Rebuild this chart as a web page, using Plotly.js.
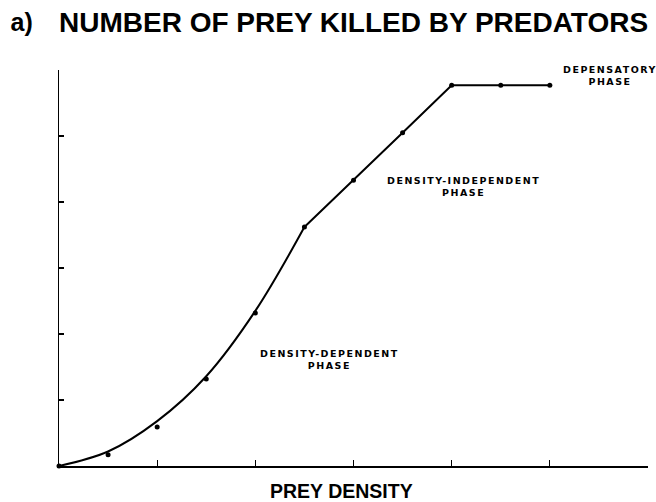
<!DOCTYPE html>
<html>
<head>
<meta charset="utf-8">
<script src="https://cdn.plot.ly/plotly-3.0.1.min.js"></script>
<style>
body { margin:0; background:#fff; }
#chart { width:656px; height:502px; }
.annotation-text { letter-spacing: 1.5px; }
.annotation[data-index="3"] .annotation-text, .annotation[data-index="4"] .annotation-text { letter-spacing: 0px; }
</style>
</head>
<body>
<div id="chart"></div>
<script>
// Prey density (relative units) and number of prey killed (relative units)
const curveDensity = [0, 0.5, 1, 1.5, 2, 2.5];
const curveKilled  = [0, 0.22, 0.68, 1.36, 2.35, 3.62];
const lineDensity  = [2.5, 3, 3.5, 4, 4.5, 5];
const lineKilled   = [3.62, 4.33, 5.05, 5.77, 5.77, 5.77];
const pointDensity = [0, 0.5, 1, 1.5, 2, 2.5, 3, 3.5, 4, 4.5, 5];
const pointKilled  = [0, 0.17, 0.59, 1.32, 2.32, 3.62, 4.33, 5.05, 5.77, 5.77, 5.77];
const phaseLabels = ["DENSITY-DEPENDENT<br>PHASE", "DENSITY-INDEPENDENT<br>PHASE", "DEPENSATORY<br>PHASE"];
const phaseX = [2.76, 4.12, 5.61];
const phaseY = [1.62, 4.24, 5.91];
const xTitle = 'PREY DENSITY';

const traces = [
  {x: curveDensity, y: curveKilled, mode: 'lines', line: {color: '#000', width: 2, shape: 'spline', smoothing: 1}, hoverinfo: 'skip'},
  {x: lineDensity, y: lineKilled, mode: 'lines', line: {color: '#000', width: 2}, hoverinfo: 'skip'},
  {x: pointDensity, y: pointKilled, mode: 'markers', marker: {color: '#000', size: 5}, cliponaxis: false}
];

const annotations = phaseLabels.map((t, i) => ({
  x: phaseX[i], y: phaseY[i], xref: 'x', yref: 'y', text: '<b>' + t + '</b>', showarrow: false,
  font: {family: 'DejaVu Sans', size: 9.5, color: '#000'}, align: 'center'
}));
annotations.push({xref: 'paper', yref: 'paper', x: -0.088, y: 1.121, xanchor: 'left', yanchor: 'middle',
  text: '<b>a)</b>', showarrow: false, font: {family: 'Liberation Sans', size: 25, color: '#000'}});
annotations.push({xref: 'paper', yref: 'paper', x: 0.48, y: -0.063, xanchor: 'center', yanchor: 'middle',
  text: '<b>' + xTitle + '</b>', showarrow: false, font: {family: 'Liberation Sans', size: 19.5, color: '#000'}});

const layout = {
  width: 656, height: 502,
  margin: {l: 59, r: 8, t: 70, b: 36},
  paper_bgcolor: '#fff', plot_bgcolor: '#fff',
  showlegend: false,
  title: {text: '<b>NUMBER OF PREY KILLED BY PREDATORS</b>', x: 59/656, xanchor: 'left', y: 1 - 22/502, yanchor: 'middle',
    font: {family: 'Liberation Sans', size: 28, color: '#000'}},
  xaxis: {range: [0, 6], showgrid: false, zeroline: false, showline: true, linecolor: '#000', linewidth: 1.5,
    ticks: 'inside', ticklen: 6, tickwidth: 1.3, tickcolor: '#000', dtick: 1, tick0: 0, showticklabels: false},
  yaxis: {range: [0, 6], showgrid: false, zeroline: false, showline: true, linecolor: '#000', linewidth: 1.5,
    ticks: 'inside', ticklen: 5, tickwidth: 1.2, tickcolor: '#000', dtick: 1, tick0: 0, showticklabels: false},
  annotations: annotations
};

Plotly.newPlot('chart', traces, layout, {displayModeBar: false, staticPlot: true});
</script>
</body>
</html>
